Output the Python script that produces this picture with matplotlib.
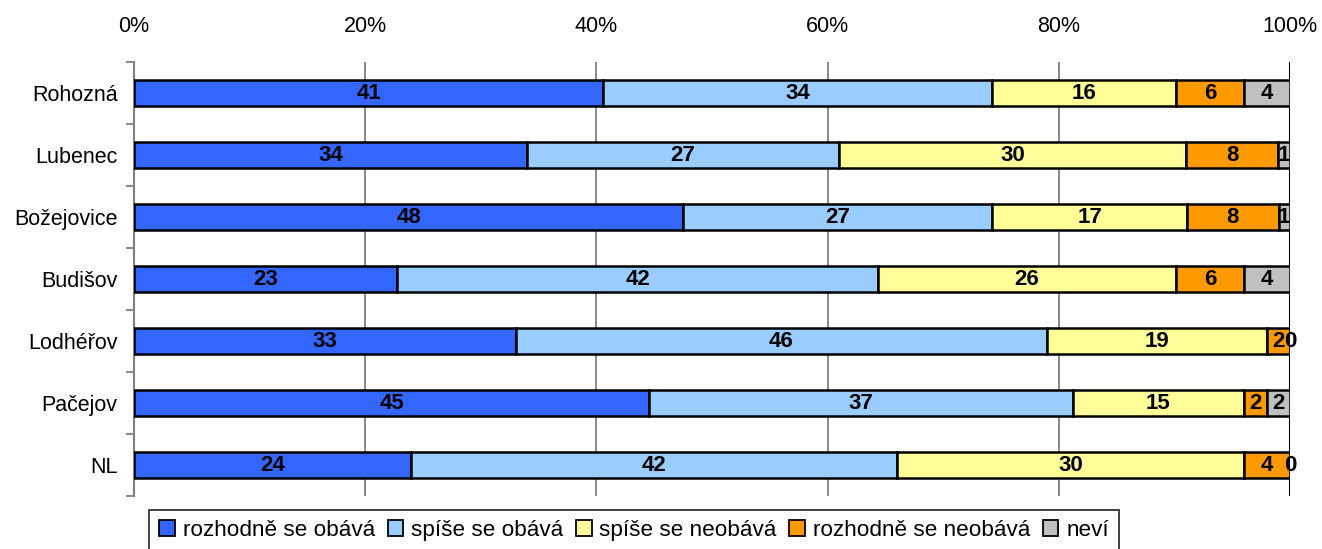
import matplotlib.pyplot as plt
import numpy as np
from matplotlib.ticker import FixedLocator, PercentFormatter

plt.rcParams['font.family'] = ['Liberation Sans', 'DejaVu Sans']

# Obce (shora dolu) a odpovedi v procentech
obce = ["Rohozná", "Lubenec", "Božejovice", "Budišov", "Lodhéřov", "Pačejov", "NL"]
kategorie = ["rozhodně se obává", "spíše se obává", "spíše se neobává",
             "rozhodně se neobává", "neví"]
rozhodne_obava = [41, 34, 48, 23, 33, 45, 24]
spise_obava = [34, 27, 27, 42, 46, 37, 42]
spise_neobava = [16, 30, 17, 26, 19, 15, 30]
rozhodne_neobava = [6, 8, 8, 6, 2, 2, 4]
nevi = [4, 1, 1, 4, 0, 2, 0]
barvy = ["#3366FF", "#99CCFF", "#FFFF99", "#FF9900", "#C0C0C0"]

hodnoty = np.array([rozhodne_obava, spise_obava, spise_neobava,
                    rozhodne_neobava, nevi], dtype=float)
podil = hodnoty / hodnoty.sum(axis=0) * 100

fig = plt.figure(figsize=(13.22, 5.49), dpi=100)
ax = fig.add_axes([0.1014, 0.0965, 0.8744, 0.7905])

y = np.arange(len(obce))
left = np.zeros(len(obce))
for i, (nazev, barva) in enumerate(zip(kategorie, barvy)):
    ax.barh(y, podil[i], left=left, height=0.43, color=barva,
            edgecolor="black", linewidth=1.8, label=nazev, zorder=3)
    for j in range(len(obce)):
        ax.text(left[j] + podil[i][j] / 2, y[j], f"{int(hodnoty[i][j])}",
                ha="center", va="center", fontsize=16, fontweight="bold",
                zorder=4)
    left += podil[i]

ax.set_xlim(0, 100)
ax.set_ylim(len(obce) - 0.5, -0.5)

# Osa x nahore, procenta
ax.xaxis.tick_top()
ax.set_xticks([0, 20, 40, 60, 80, 100])
ax.xaxis.set_major_formatter(PercentFormatter(decimals=0))
ax.tick_params(axis="x", length=0, pad=18, labelsize=15.5)
for g in [20, 40, 60, 80]:
    ax.axvline(g, color="#808080", linewidth=1.3, zorder=1)
ax.axvline(100, color="black", linewidth=1.5, zorder=1)

# Osa y: popisky obci, znacky na hranicich kategorii
ax.set_yticks(y)
ax.set_yticklabels(obce)
ax.tick_params(axis="y", length=0, pad=12, labelsize=15.5)
ax.yaxis.set_minor_locator(FixedLocator(np.arange(-0.5, len(obce), 1)))
ax.tick_params(axis="y", which="minor", length=6, width=1.3, color="#808080")

for s in ["top", "right", "bottom"]:
    ax.spines[s].set_visible(False)
ax.spines["left"].set_color("#808080")
ax.spines["left"].set_linewidth(1.5)

leg = fig.legend(loc="upper center", bbox_to_anchor=(0.4796, 0.071), ncol=5,
                 fontsize=16.2, frameon=True, fancybox=False, edgecolor="black",
                 handlelength=0.7, handleheight=0.7, handletextpad=0.35,
                 columnspacing=0.55, borderpad=0.45, borderaxespad=0)
leg.get_frame().set_linewidth(1.3)
for h in leg.legend_handles:
    h.set_linewidth(1.3)

fig.savefig("out.png", dpi=100)
